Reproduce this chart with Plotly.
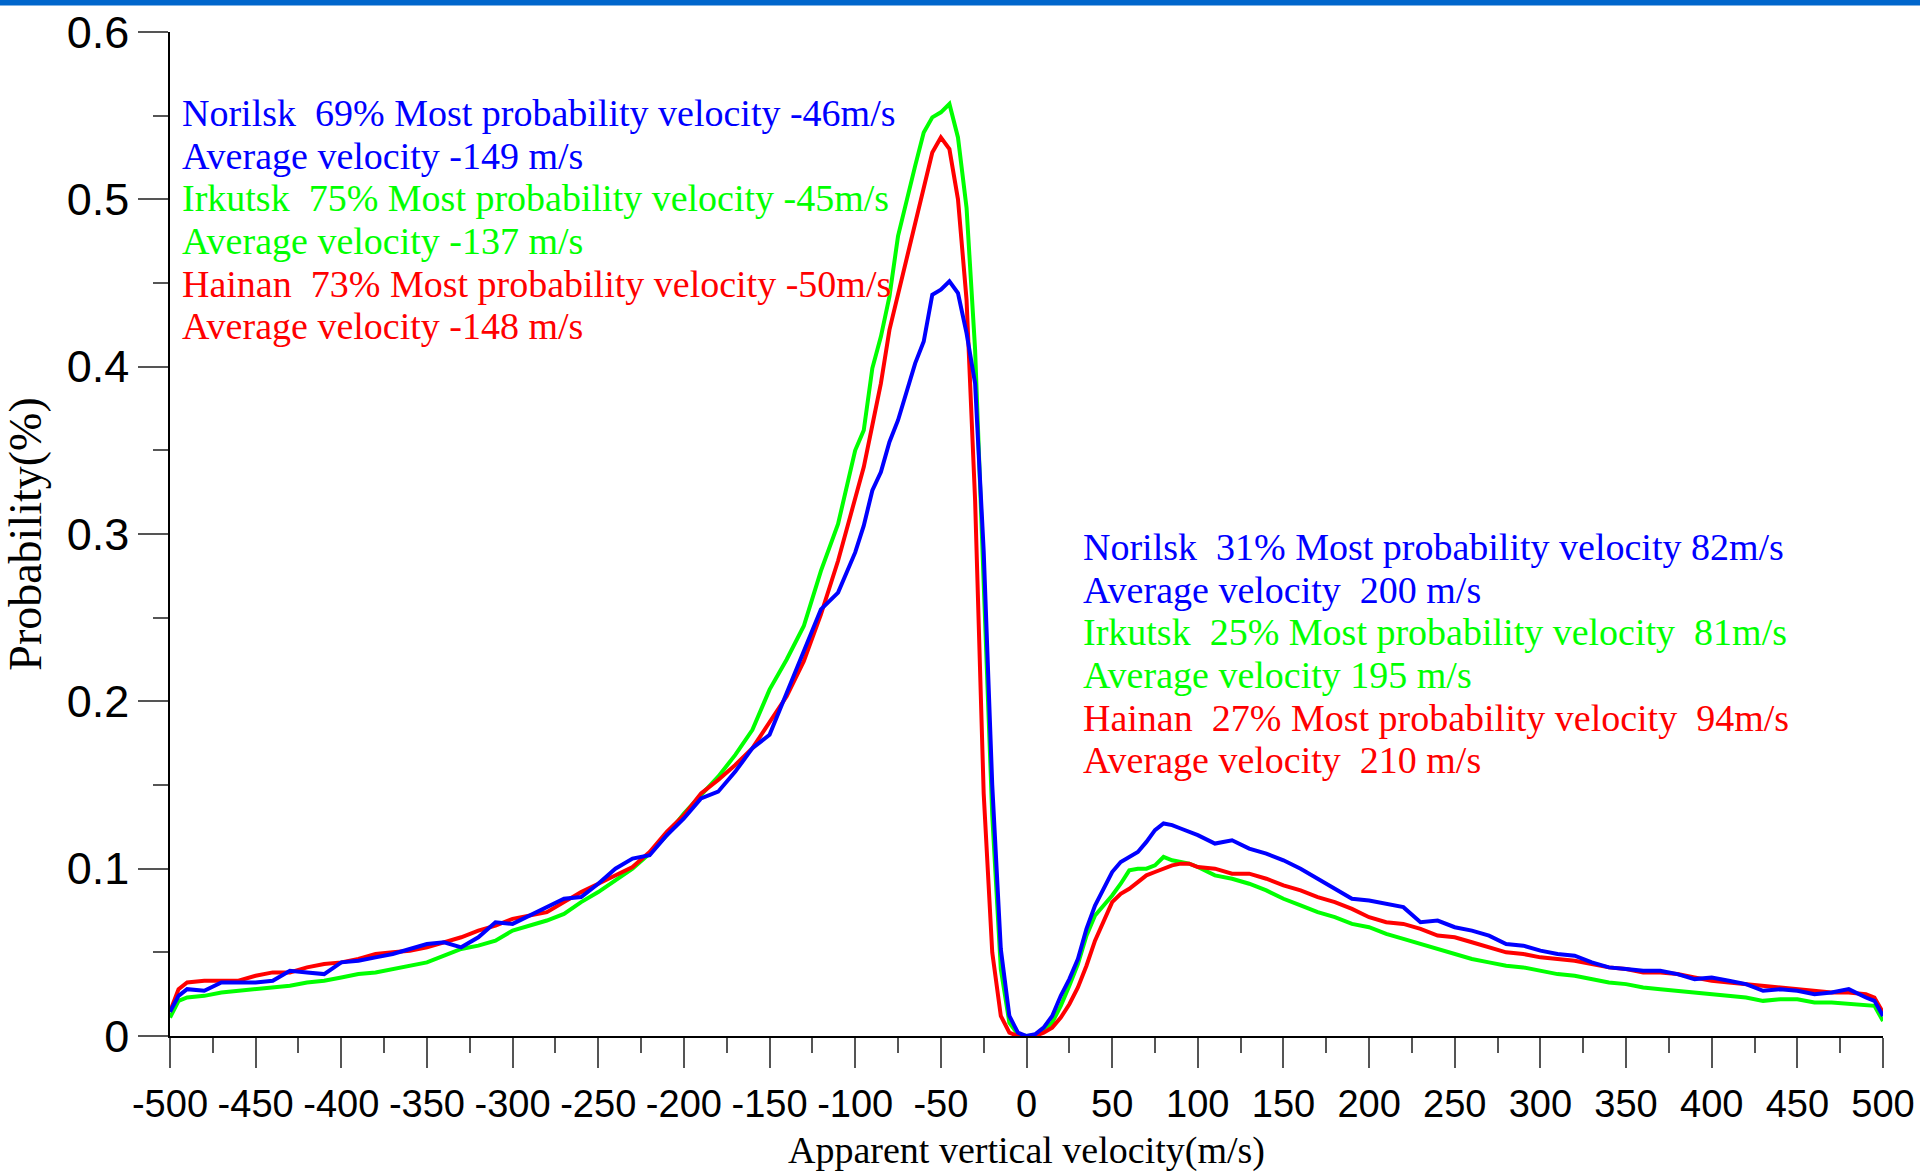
import plotly.graph_objects as go

# apparent vertical velocity (m/s), common grid for the three stations
velocity = [-500, -495, -490, -480, -470, -460, -450, -440, -430, -420, -410,
            -400, -390, -380, -370, -360, -350, -340, -330, -320, -310,
            -300, -290, -280, -270, -260, -250, -240, -230, -220, -210,
            -200, -190, -180, -170, -160, -150, -140, -130, -120, -110,
            -100, -95, -90, -85, -80, -75, -70, -65, -60, -55, -50, -45,
            -40, -35, -30, -25, -20, -15, -10, -5, 0, 5, 10, 15, 20, 25,
            30, 35, 40, 45, 50, 55, 60, 65, 70, 75, 80, 85, 90, 95, 100,
            110, 120, 130, 140, 150, 160, 170, 180, 190, 200, 210, 220,
            230, 240, 250, 260, 270, 280, 290, 300, 310, 320, 330, 340,
            350, 360, 370, 380, 390, 400, 410, 420, 430, 440, 450, 460,
            470, 480, 490, 495, 500]

norilsk = [0.0145, 0.024, 0.028, 0.027, 0.032, 0.032, 0.032, 0.033, 0.039, 0.038, 0.037,
           0.044, 0.045, 0.047, 0.049, 0.052, 0.055, 0.056, 0.053, 0.059, 0.068,
           0.067, 0.072, 0.077, 0.082, 0.083, 0.091, 0.100, 0.106, 0.108, 0.120,
           0.130, 0.142, 0.146, 0.158, 0.172, 0.180, 0.205, 0.230, 0.255, 0.265,
           0.289, 0.305, 0.326, 0.337, 0.355, 0.368, 0.385, 0.402, 0.415, 0.443, 0.446, 0.451,
           0.444, 0.420, 0.390, 0.290, 0.150, 0.052, 0.012, 0.002, 0.0, 0.001, 0.005, 0.012, 0.024, 0.034,
           0.046, 0.064, 0.078, 0.088, 0.098, 0.104, 0.107, 0.110, 0.116, 0.123, 0.127, 0.126, 0.124, 0.122, 0.120,
           0.115, 0.117, 0.112, 0.109, 0.105, 0.100, 0.094, 0.088, 0.082, 0.081, 0.079, 0.077,
           0.068, 0.069, 0.065, 0.063, 0.060, 0.055, 0.054, 0.051, 0.049, 0.048, 0.044, 0.041,
           0.040, 0.039, 0.039, 0.037, 0.034, 0.035, 0.033, 0.031, 0.027, 0.028, 0.027, 0.025,
           0.026, 0.028, 0.023, 0.021, 0.012]

irkutsk = [0.011, 0.021, 0.023, 0.024, 0.026, 0.027, 0.028, 0.029, 0.030, 0.032, 0.033,
           0.035, 0.037, 0.038, 0.040, 0.042, 0.044, 0.048, 0.052, 0.054, 0.057,
           0.063, 0.066, 0.069, 0.073, 0.080, 0.086, 0.093, 0.100, 0.109, 0.120,
           0.133, 0.144, 0.155, 0.168, 0.183, 0.207, 0.225, 0.245, 0.278, 0.306,
           0.350, 0.362, 0.399, 0.418, 0.442, 0.478, 0.500, 0.520, 0.540, 0.549, 0.552, 0.557,
           0.537, 0.495, 0.410, 0.270, 0.132, 0.040, 0.008, 0.001, 0.0, 0.0005, 0.003, 0.008, 0.018, 0.030,
           0.043, 0.060, 0.072, 0.078, 0.084, 0.091, 0.099, 0.100, 0.100, 0.102, 0.107, 0.105, 0.104, 0.103, 0.101,
           0.096, 0.094, 0.091, 0.087, 0.082, 0.078, 0.074, 0.071, 0.067, 0.065, 0.061, 0.058,
           0.055, 0.052, 0.049, 0.046, 0.044, 0.042, 0.041, 0.039, 0.037, 0.036, 0.034, 0.032,
           0.031, 0.029, 0.028, 0.027, 0.026, 0.025, 0.024, 0.023, 0.021, 0.022, 0.022, 0.020,
           0.020, 0.019, 0.018, 0.018, 0.009]

hainan = [0.0145, 0.028, 0.032, 0.033, 0.033, 0.033, 0.036, 0.038, 0.038, 0.041, 0.043,
          0.044, 0.046, 0.049, 0.050, 0.051, 0.053, 0.056, 0.059, 0.063, 0.066,
          0.070, 0.072, 0.074, 0.080, 0.086, 0.091, 0.096, 0.101, 0.110, 0.122,
          0.132, 0.145, 0.153, 0.162, 0.172, 0.188, 0.203, 0.224, 0.252, 0.284,
          0.322, 0.340, 0.365, 0.390, 0.422, 0.443, 0.464, 0.485, 0.505, 0.528, 0.537, 0.530,
          0.500, 0.440, 0.320, 0.145, 0.050, 0.012, 0.002, 0.0, 0.0, 0.0, 0.002, 0.005, 0.011, 0.019,
          0.029, 0.042, 0.057, 0.069, 0.080, 0.085, 0.088, 0.092, 0.096, 0.098, 0.100, 0.102, 0.103, 0.103, 0.101,
          0.100, 0.097, 0.097, 0.094, 0.090, 0.087, 0.083, 0.080, 0.076, 0.071, 0.068, 0.067,
          0.064, 0.060, 0.059, 0.056, 0.053, 0.050, 0.049, 0.047, 0.046, 0.045, 0.043, 0.041,
          0.040, 0.038, 0.038, 0.037, 0.035, 0.033, 0.032, 0.031, 0.030, 0.029, 0.028, 0.027,
          0.026, 0.026, 0.025, 0.023, 0.014]

x_ticks = list(range(-500, 501, 50))
x_tick_text = [str(v) for v in x_ticks]  # plain hyphen, not unicode minus

left_notes = [
    ("Norilsk\u00a0 69% Most probability velocity -46m/s", "#0000ff"),
    ("Average velocity -149 m/s", "#0000ff"),
    ("Irkutsk\u00a0 75% Most probability velocity -45m/s", "#00ff00"),
    ("Average velocity -137 m/s", "#00ff00"),
    ("Hainan\u00a0 73% Most probability velocity -50m/s", "#ff0000"),
    ("Average velocity -148 m/s", "#ff0000"),
]
right_notes = [
    ("Norilsk\u00a0 31% Most probability velocity 82m/s", "#0000ff"),
    ("Average velocity\u00a0 200 m/s", "#0000ff"),
    ("Irkutsk\u00a0 25% Most probability velocity\u00a0 81m/s", "#00ff00"),
    ("Average velocity 195 m/s", "#00ff00"),
    ("Hainan\u00a0 27% Most probability velocity\u00a0 94m/s", "#ff0000"),
    ("Average velocity\u00a0 210 m/s", "#ff0000"),
]

W, H = 1920, 1176
ML, MR, MT, MB = 170, 37, 32, 140
SERIF = "Liberation Serif, Times New Roman, serif"
SANS = "Liberation Sans, Arial, sans-serif"
TICK_COL = "#555555"

fig = go.Figure()
for name, ys, col in [("Irkutsk", irkutsk, "#00ff00"),
                      ("Hainan", hainan, "#ff0000"),
                      ("Norilsk", norilsk, "#0000ff")]:
    fig.add_trace(go.Scatter(x=velocity, y=ys, mode="lines", name=name,
                             line=dict(color=col, width=4)))

# text blocks, one annotation per line
for i, (txt, col) in enumerate(left_notes):
    fig.add_annotation(x=-494, y=0.5516 - i * 0.0255, text=txt, showarrow=False,
                       xanchor="left", yanchor="middle",
                       font=dict(family=SERIF, size=38, color=col))
for i, (txt, col) in enumerate(right_notes):
    fig.add_annotation(x=32, y=0.2922 - i * 0.0255, text=txt, showarrow=False,
                       xanchor="left", yanchor="middle",
                       font=dict(family=SERIF, size=38, color=col))

pw, ph = W - ML - MR, H - MT - MB
# blue strip along the top edge of the page
fig.add_shape(type="rect", xref="paper", yref="paper",
              x0=-ML / pw, x1=1 + MR / pw, y0=1 + (MT - 5.5) / ph, y1=1 + MT / ph,
              fillcolor="#0066cc", line_width=0, layer="above")

axis_common = dict(showline=True, linecolor="black", linewidth=1.5,
                   ticks="outside", ticklen=30, tickwidth=1.5, tickcolor=TICK_COL,
                   showgrid=False, zeroline=False)

fig.update_xaxes(range=[-500, 500], tickvals=x_ticks, ticktext=x_tick_text,
                 tickangle=0, ticklabelstandoff=4,
                 tickfont=dict(family=SANS, size=38, color="black"),
                 minor=dict(ticks="outside", ticklen=15, tickwidth=1.5,
                            tickcolor=TICK_COL, dtick=25, tick0=-500),
                 title=dict(text="Apparent vertical velocity(m/s)", standoff=12,
                            font=dict(family=SERIF, size=38, color="black")),
                 **axis_common)
fig.update_yaxes(range=[0, 0.6], dtick=0.1, tick0=0, ticklabelstandoff=0,
                 tickfont=dict(family=SANS, size=45, color="black"),
                 minor=dict(ticks="outside", ticklen=15, tickwidth=1.5,
                            tickcolor=TICK_COL, dtick=0.05, tick0=0),
                 title=dict(text="Probability(%)", standoff=12,
                            font=dict(family=SERIF, size=46, color="black")),
                 **axis_common)

fig.update_layout(width=W, height=H, showlegend=False,
                  margin=dict(l=ML, r=MR, t=MT, b=MB, autoexpand=False),
                  plot_bgcolor="white", paper_bgcolor="white")

# drop the default 8px body margin so the figure sits at the window corner
fig.write_html("out.html", config={"displayModeBar": False},
               post_script="document.body.style.margin='0';")
